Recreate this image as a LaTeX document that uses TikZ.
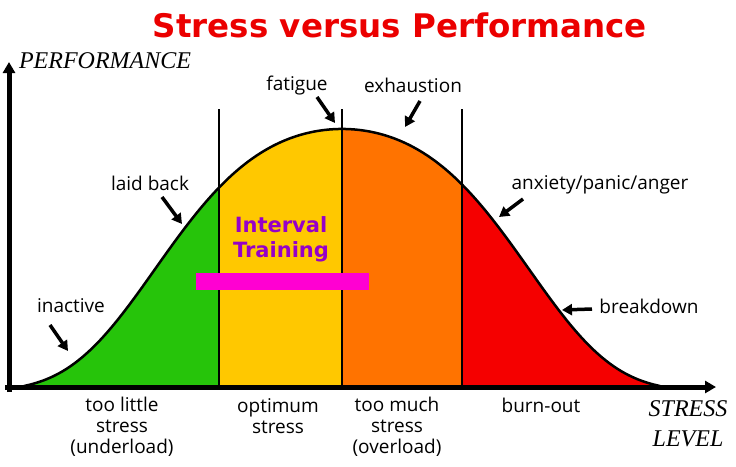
\documentclass[tikz,border=0pt]{standalone}
\usepackage{fontspec}
\usepackage{tikz}
\usetikzlibrary{arrows.meta}
\newfontfamily\handfont{Open Sans}
\newfontfamily\boldsans{DejaVu Sans}
\newfontfamily\axisfont{Liberation Serif}
\definecolor{lowgreen}{RGB}{38,196,10}
\definecolor{optyellow}{RGB}{255,200,0}
\definecolor{highorange}{RGB}{255,115,0}
\definecolor{burnred}{RGB}{245,0,0}
\definecolor{barpink}{RGB}{255,0,210}
\definecolor{trainpurple}{RGB}{150,0,200}
\definecolor{titlered}{RGB}{235,0,0}

\begin{document}
\begin{tikzpicture}[x=1pt,y=-1pt,
  declare function={bu(\x)=(\x-342)/249;
    bell(\x)=391-262*exp(-0.7937*bu(\x)*bu(\x)-bu(\x)*bu(\x)*bu(\x)*bu(\x));},
  lbl/.style={font=\handfont\fontsize{19}{21}\selectfont,align=center},
  axlbl/.style={font=\axisfont\itshape\fontsize{24}{30}\selectfont,align=center},
  note/.style={-{Triangle[length=10pt,width=11pt]},line width=3.5pt},
  axisarr/.style={-{Triangle[length=11pt,width=12pt]},line width=5pt},
  divider/.style={line width=2pt}]
  \useasboundingbox (0,0) rectangle (736,466);

  \fill[lowgreen] (24,386) -- plot[domain=24:219,samples=60] (\x,{bell(\x)}) -- (219,386) -- cycle;
  \fill[optyellow] (219,386) -- plot[domain=219:342,samples=40] (\x,{bell(\x)}) -- (342,386) -- cycle;
  \fill[highorange] (342,386) -- plot[domain=342:462,samples=40] (\x,{bell(\x)}) -- (462,386) -- cycle;
  \fill[burnred] (462,386) -- plot[domain=462:660,samples=60] (\x,{bell(\x)}) -- (660,386) -- cycle;
  \draw[line width=2.5pt] plot[domain=24:660,samples=200] (\x,{bell(\x)});
  \foreach \bx in {219,342,462}
    \draw[divider] (\bx,109) -- (\bx,386);
  \fill[barpink] (196,273) rectangle (369,290);

  \coordinate (orig) at (9,387);
  \coordinate (ytip) at (9,62);
  \coordinate (xtip) at (716,387);
  \draw[axisarr] (orig |- 0,392) -- (ytip);
  \draw[axisarr] (orig -| 5,0) -- (xtip);

  \node[font=\boldsans\bfseries\fontsize{32.5}{36}\selectfont,text=titlered] (title) at (400,25) {Stress versus Performance};
  \node[font=\boldsans\bfseries\fontsize{21}{25}\selectfont,text=trainpurple,align=center] (training) at (281,239) {Interval\\Training};
  \node[axlbl] (perf) at (105,61) {PERFORMANCE};
  \node[axlbl] (level) at (688,424) {STRESS\\LEVEL};

  \node[lbl] (inactive) at (71,306) {inactive};
  \node[lbl] (laidback) at (150,183) {laid back};
  \node[lbl] (fatigue) at (297,86) {fatigue};
  \node[lbl] (exhaust) at (413,85) {exhaustion};
  \node[lbl] (anxiety) at (600,185) {anxiety/panic/anger};
  \node[lbl] (breakdown) at (649,306) {breakdown};

  \node[lbl] (little) at (122,427) {too little\\stress\\(underload)};
  \node[lbl] (optimum) at (278,416) {optimum\\stress};
  \node[lbl] (much) at (397,427) {too much\\stress\\(overload)};
  \node[lbl] (burnout) at (541,405) {burn-out};

  \coordinate (inA) at (50,325);  \coordinate (inB) at (68,351);
  \coordinate (lbA) at (162,197); \coordinate (lbB) at (182,224);
  \coordinate (faA) at (317,97);  \coordinate (faB) at (335,123);
  \coordinate (exA) at (420,101); \coordinate (exB) at (405,127);
  \coordinate (anA) at (523,199); \coordinate (anB) at (499,217);
  \coordinate (brA) at (592,309); \coordinate (brB) at (562,310);
  \foreach \s/\e in {inA/inB,lbA/lbB,faA/faB,exA/exB,anA/anB,brA/brB}
    \draw[note] (\s) -- (\e);
\end{tikzpicture}
\end{document}
